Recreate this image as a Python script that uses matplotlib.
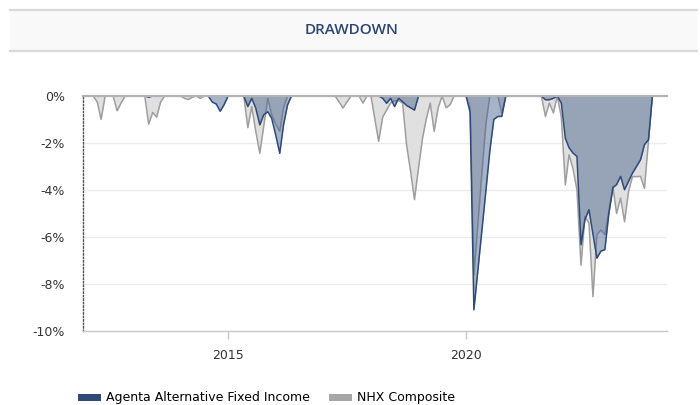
import numpy as np
import pandas as pd
import matplotlib
matplotlib.use("Agg")
import matplotlib.pyplot as plt
from matplotlib.patches import Patch, Rectangle
from matplotlib.lines import Line2D

# Monthly drawdown in %, Jan 2012 .. Dec 2023 (one row per year)
agenta_dd = [
    0, 0, 0, 0, 0, 0, 0, 0, 0, 0, 0, 0,                                       # 2012
    0, 0, 0, 0, -0.05, 0, 0, 0, 0, 0, 0, 0,                                   # 2013
    0, 0, 0, 0, 0, 0, 0, 0, -0.26, -0.34, -0.65, -0.37,                       # 2014
    0, 0, 0, 0, 0, -0.45, -0.1, -0.52, -1.23, -0.8, -0.67, -0.95,             # 2015
    -1.66, -2.44, -1.23, -0.38, 0, 0, 0, 0, 0, 0, 0, 0,                       # 2016
    0, 0, 0, 0, 0, 0, 0, 0, 0, 0, 0, 0,                                       # 2017
    0, 0, 0, -0.1, -0.31, -0.1, -0.45, -0.1, -0.24, -0.4, -0.5, -0.6,         # 2018
    0, 0, 0, 0, 0, 0, 0, 0, 0, 0, 0, 0,                                       # 2019
    0, -0.7, -9.1, -7.41, -5.73, -4.04, -2.36, -1.0, -0.87, -0.87, 0, 0,      # 2020
    0, 0, 0, 0, 0, 0, 0, 0, -0.16, -0.16, -0.1, 0,                            # 2021
    -0.3, -1.8, -2.2, -2.43, -2.57, -6.33, -5.26, -4.84, -5.9, -6.9, -6.6, -6.54,  # 2022
    -5.0, -3.9, -3.77, -3.42, -3.99, -3.63, -3.28, -3.0, -2.71, -2.07, -1.86, 0,   # 2023
]

nhx_dd = [
    0, 0, 0, -0.25, -1.0, 0, 0, 0, -0.63, -0.3, 0, 0,                         # 2012
    0, 0, 0, 0, -1.2, -0.7, -0.9, -0.25, 0, 0, 0, 0,                          # 2013
    0, -0.1, -0.15, -0.05, 0, -0.1, 0, 0, 0, 0, 0, 0,                         # 2014
    0, 0, 0, 0, 0, -1.35, -0.45, -1.5, -2.44, -1.3, -0.1, -0.8,               # 2015
    -1.2, -1.5, -0.5, 0, 0, 0, 0, 0, 0, 0, 0, 0,                              # 2016
    0, 0, 0, 0, -0.25, -0.51, -0.25, 0, 0, 0, -0.3, 0,                        # 2017
    0, -1.0, -1.93, -0.9, -0.6, -0.3, -0.2, -0.2, -0.3, -2.07, -3.2, -4.41,   # 2018
    -3.06, -1.79, -1.0, -0.3, -1.5, -0.5, 0, -0.5, -0.37, 0, 0, 0,            # 2019
    0, -0.5, -7.6, -5.4, -3.3, -1.2, 0, 0, 0, -0.72, 0, 0,                    # 2020
    0, 0, 0, 0, 0, 0, 0, 0, -0.87, -0.3, -0.72, 0,                            # 2021
    -0.9, -3.78, -2.5, -3.1, -4.0, -7.2, -5.13, -5.4, -8.54, -5.9, -5.7, -5.9,     # 2022
    -4.9, -3.86, -5.0, -4.34, -5.35, -4.06, -3.43, -3.43, -3.42, -3.93, -1.9, 0,   # 2023
]

months = pd.date_range("2012-01-01", periods=len(agenta_dd), freq="MS")

series_names = ["Agenta Alternative Fixed Income", "NHX Composite"]
y_ticks = [0, -2, -4, -6, -8, -10]
y_labels = ["0%", "-2%", "-4%", "-6%", "-8%", "-10%"]
x_ticks = pd.to_datetime(["2015-01-01", "2020-01-01"])
x_labels = ["2015", "2020"]

W, H = 700, 405
fig = plt.figure(figsize=(W / 100, H / 100), dpi=100)

# title band
fig.patches.append(Rectangle((10 / W, 1 - 51 / H), 687 / W, 41 / H, transform=fig.transFigure,
                             facecolor="#f9f9f9", edgecolor="none", zorder=0))
for yy in (10, 51):
    fig.add_artist(Line2D([10 / W, 697 / W], [1 - yy / H, 1 - yy / H], transform=fig.transFigure,
                          color="#d9d9d9", lw=1.6))
fig.text(352 / W, 1 - 30 / H, "DRAWDOWN", ha="center", va="center", fontsize=11,
         color="#2f4571", family="Open Sans", weight="semibold")

ax = fig.add_axes([83 / W, 1 - 331 / H, (667 - 83) / W, (331 - 96) / H])

# NHX underneath, Agenta on top (semi transparent)
ax.fill_between(months, nhx_dd, 0, color="#e0e0e0", lw=0, zorder=2)
ax.plot(months, nhx_dd, color="#9e9e9e", lw=1.1, zorder=3)
ax.fill_between(months, agenta_dd, 0, color="#48618c", alpha=0.48, lw=0, zorder=4)
ax.plot(months, agenta_dd, color="#2c4a7a", lw=1.1, zorder=5)

ax.axhline(0, color="#b3b3b3", lw=1.6, zorder=6, clip_on=False)

ax.set_xlim(pd.Timestamp("2011-12-14"), pd.Timestamp("2024-03-22"))
ax.set_ylim(-10, 0)
ax.set_yticks(y_ticks)
ax.set_yticklabels(y_labels)
ax.set_xticks(x_ticks)
ax.set_xticklabels(x_labels)

ax.yaxis.grid(True, color="#ececec", lw=1, zorder=0)
ax.set_axisbelow(True)
for s in ("top", "right"):
    ax.spines[s].set_visible(False)
ax.spines["left"].set_linestyle((0, (1, 1.5)))
ax.spines["left"].set_color("#555555")
ax.spines["left"].set_linewidth(1)
ax.spines["bottom"].set_color("#c8c8c8")
ax.spines["bottom"].set_linewidth(1)

ax.tick_params(axis="y", length=0, pad=13, labelsize=9, labelcolor="#333333")
ax.tick_params(axis="x", length=6, width=1, color="#c8c8c8", pad=7, labelsize=9, labelcolor="#333333")

handles = [Patch(facecolor="#2e4a75"), Patch(facecolor="#a6a6a6")]
fig.legend(handles, series_names, loc="center left", bbox_to_anchor=(78 / W, 1 - 398 / H),
           ncol=2, frameon=False, fontsize=9, handlelength=1.8, handleheight=0.5,
           handletextpad=0.4, columnspacing=1.6, borderaxespad=0, borderpad=0)

fig.savefig("out.png", dpi=100)
